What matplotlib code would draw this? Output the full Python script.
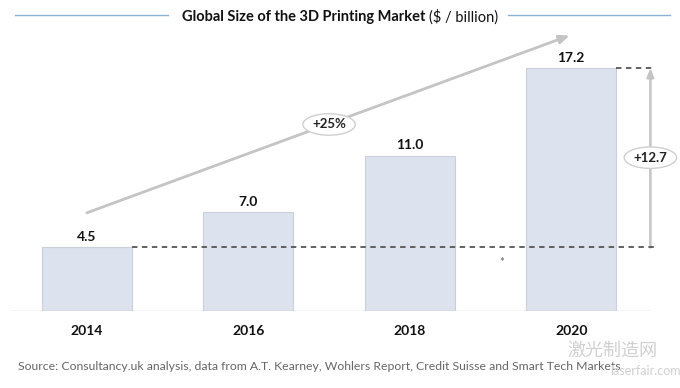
"""Global Size of the 3D Printing Market bar chart."""
import matplotlib.pyplot as plt
import numpy as np

plt.rcParams["font.family"] = ["Lato", "DejaVu Sans"]

years = ["2014", "2016", "2018", "2020"]
values = [4.5, 7.0, 11.0, 17.2]
growth_label = "+25%"
delta_label = "+12.7"
source = ("Source: Consultancy.uk analysis, data from A.T. Kearney, Wohlers Report, "
          "Credit Suisse and Smart Tech Markets")

BAR_FACE = "#dde3ee"
BAR_EDGE = "#c9cfdb"
ARROW = "#c4c4c4"
DASH = "#555555"
TITLE_LINE = "#8fb0d6"

W, H = 680, 388
fig = plt.figure(figsize=(W / 100, H / 100), dpi=100)

# axes: baseline at y=311px, bars centred at 87px with 161.5px spacing
ax = fig.add_axes([11 / W, 77 / H, 641 / W, 281 / H])
ax.set_xlim(-0.47, 3.50)
ax.set_ylim(0, 281 / 14.13)
ax.axis("off")

x = np.arange(len(values))
width = 0.557
ax.bar(x, values, width=width, color=BAR_FACE, edgecolor=BAR_EDGE, linewidth=0.8, zorder=2)
ax.axhline(0, color="#cccccc", lw=1.0, zorder=3)

for xi, v in zip(x, values):
    ax.text(xi, v + 0.3, f"{v:.1f}", ha="center", va="bottom", fontsize=10,
            fontweight="bold", color="#111111")
    ax.text(xi, -1.0, years[xi], ha="center", va="top", fontsize=10,
            fontweight="bold", color="#111111")

# growth arrow
ax.annotate("", xy=(2.99, 19.5), xytext=(0.0, 6.95), annotation_clip=False,
            arrowprops=dict(arrowstyle="-|>,head_length=0.6,head_width=0.25",
                            color=ARROW, lw=2.0, shrinkA=0, shrinkB=0))
ax.text(1.5, 13.2, growth_label, ha="center", va="center", fontsize=9.5,
        fontweight="bold", color="#222222", zorder=5,
        bbox=dict(boxstyle="ellipse,pad=0.12", fc="white", ec="#cfcfcf", lw=1.0))

# difference marker
x_end = 3.52
x_arrow = 3.49
ax.plot([x[0] + width / 2, x_end], [values[0], values[0]], ls=(0, (3, 2.5)),
        color=DASH, lw=1.3, zorder=4, clip_on=False)
ax.plot([x[-1] + width / 2, x_end], [values[-1], values[-1]], ls=(0, (3, 2.5)),
        color=DASH, lw=1.3, zorder=4, clip_on=False)
ax.annotate("", xy=(x_arrow, values[-1]), xytext=(x_arrow, values[0]),
            annotation_clip=False,
            arrowprops=dict(arrowstyle="-|>,head_length=0.5,head_width=0.2",
                            color=ARROW, lw=1.8, shrinkA=0, shrinkB=0))
ax.text(x_arrow, (values[0] + values[-1]) / 2, delta_label, ha="center", va="center",
        fontsize=9.5, fontweight="bold", color="#222222", zorder=5,
        bbox=dict(boxstyle="ellipse,pad=0.12", fc="white", ec="#cfcfcf", lw=1.0))
ax.text(2.57, 3.4, "*", ha="center", va="center", fontsize=8, color="#555577")

# title: bold part + regular part, with rules either side
renderer = fig.canvas.get_renderer()
t1 = fig.text(0, 1 - 17 / H, "Global Size of the 3D Printing Market ", fontsize=10.5,
              fontweight="bold", va="center", color="#111111")
t2 = fig.text(0, 1 - 17 / H, "($ / billion)", fontsize=10.5, va="center", color="#111111")
w1 = t1.get_window_extent(renderer).width / W
w2 = t2.get_window_extent(renderer).width / W
left = 0.5 - (w1 + w2) / 2
t1.set_x(left)
t2.set_x(left + w1)
fig.add_artist(plt.Line2D([15 / W, left - 14 / W], [1 - 15 / H] * 2, color=TITLE_LINE, lw=1.0))
fig.add_artist(plt.Line2D([left + w1 + w2 + 10 / W, 670 / W], [1 - 15 / H] * 2,
                          color=TITLE_LINE, lw=1.0))

fig.text(18 / W, 1 - 366 / H, source, fontsize=8.8, va="center", color="#666666")

# watermark
fig.text(567 / W, 1 - 351 / H, "激光制造网", fontsize=13, va="center", color="#d0d0d0",
         family=["Noto Sans CJK SC", "DejaVu Sans"])
fig.text(610 / W, 1 - 371 / H, "laserfair.com", fontsize=9, va="center", color="#d0d0d0")

fig.savefig("out.png", dpi=100)
